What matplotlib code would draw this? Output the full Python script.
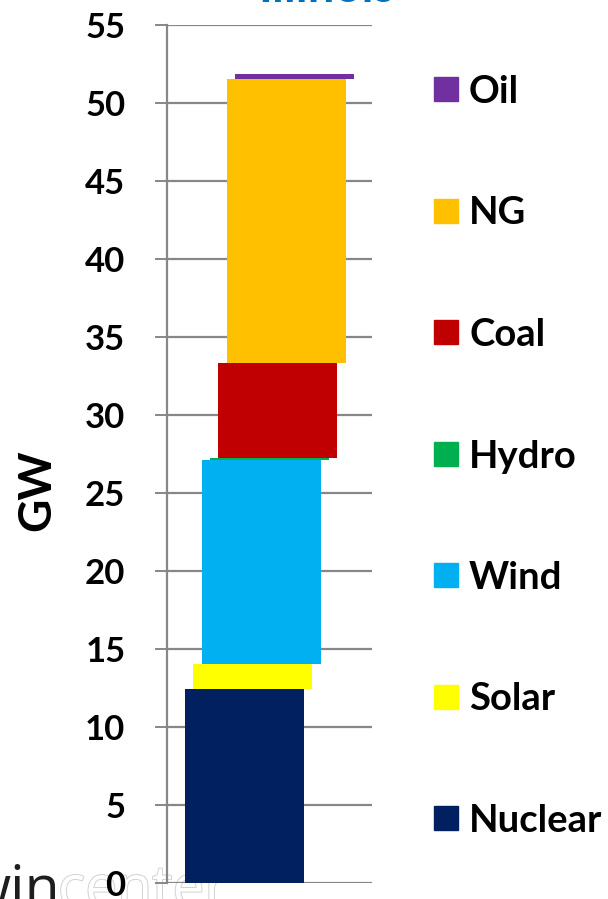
import matplotlib

matplotlib.use("Agg")
import matplotlib.pyplot as plt  # noqa: E402
import matplotlib.patheffects as pe  # noqa: E402
from matplotlib.patches import Rectangle  # noqa: E402

# generation capacity by source, GW (stacked bottom to top)
sources = ["Nuclear", "Solar", "Wind", "Hydro", "Coal", "NG", "Oil"]
capacity_gw = [12.4, 1.6, 13.1, 0.1, 6.1, 18.25, 0.3]
colors = ["#002060", "#FFFF00", "#00B0F0", "#00B050", "#C00000", "#FFC000", "#7030A0"]
yticks = list(range(0, 56, 5))

W, H = 608, 899
fig = plt.figure(figsize=(W / 100, H / 100), dpi=100)
plt.rcParams["font.family"] = ["Lato", "DejaVu Sans"]

# logo in the lower left corner, partly cut off (drawn under the chart)
fig.text(-34 / W, 1 - 906 / H, "win", ha="left", va="baseline", fontsize=41,
         family="Open Sans", color="#1e1e1e", zorder=-2)
fig.text(58 / W, 1 - 906 / H, "center", ha="left", va="baseline", fontsize=41,
         family="Open Sans", color="white", zorder=-2,
         path_effects=[pe.Stroke(linewidth=1.3, foreground="#cfcfcf"), pe.Normal()])

# axes box in pixels: x 167..372, y 24.7..882.7 (from top)
ax = fig.add_axes([167 / W, (H - 882.7) / H, (372 - 167) / W, 858 / H])
ax.set_facecolor("none")
ax.set_xlim(0, 205)
ax.set_ylim(0, 55)

# each segment steps a little to the right, like a staircase
bottom = 0.0
for i, (name, val, col) in enumerate(zip(sources, capacity_gw, colors)):
    ax.bar(18 + 8.3 * i, val, width=119, bottom=bottom, color=col, align="edge",
           linewidth=0, zorder=3)
    bottom += val

grey = "#878787"
ax.set_yticks(yticks)
ax.yaxis.grid(True, color=grey, linewidth=1.6, zorder=1)
ax.tick_params(axis="y", length=9, width=1.4, color=grey, pad=21,
               labelsize=25)
for lbl in ax.get_yticklabels():
    lbl.set_fontweight("bold")
ax.set_xticks([])
for s in ("top", "right", "bottom"):
    ax.spines[s].set_visible(False)
ax.spines["left"].set_color(grey)
ax.spines["left"].set_linewidth(1.6)
ax.spines["left"].set_zorder(2)

fig.text(37 / W, 1 - 490 / H, "GW", rotation=90, ha="center", va="center",
         fontsize=33, fontweight="bold")

# title sits almost entirely above the top edge
fig.text(326 / W, 1 - 1.5 / H, "Illinois", ha="center", va="baseline",
         fontsize=34, fontweight="bold", color="#0070C0")

# legend, top entry is the last stacked source
for k, idx in enumerate(reversed(range(len(sources)))):
    yc = 89 + 121.5 * k
    fig.patches.append(Rectangle((434 / W, 1 - (yc + 12) / H), 24 / W, 24 / H,
                                 transform=fig.transFigure, color=colors[idx]))
    fig.text(469 / W, 1 - yc / H, sources[idx], ha="left", va="center_baseline",
             fontsize=27.5, fontweight="bold")

fig.savefig("out.png", dpi=100)
